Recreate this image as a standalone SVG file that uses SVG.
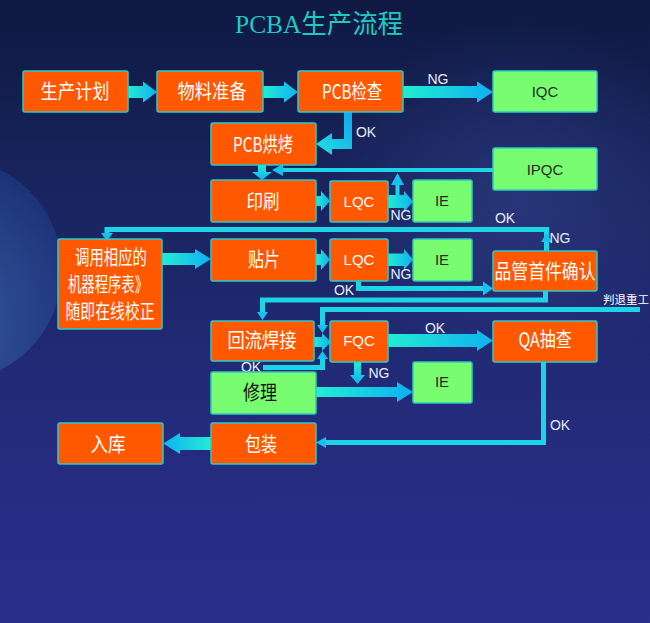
<svg xmlns="http://www.w3.org/2000/svg" width="650" height="623" viewBox="0 0 650 623">
<defs>
<linearGradient id="bg" x1="0" y1="0" x2="0" y2="1">
<stop offset="0" stop-color="#0f1942"/>
<stop offset="0.3" stop-color="#18245e"/>
<stop offset="0.65" stop-color="#232b7a"/>
<stop offset="1" stop-color="#2a2e8c"/>
</linearGradient>
<radialGradient id="glow" cx="0.35" cy="0.7" r="0.75">
<stop offset="0" stop-color="#4a86c8"/>
<stop offset="1" stop-color="#1f3c88"/>
</radialGradient>
<radialGradient id="glow2" cx="0.5" cy="0.5" r="0.5">
<stop offset="0" stop-color="#3a4a96" stop-opacity="0.45"/>
<stop offset="1" stop-color="#3a4a96" stop-opacity="0"/>
</radialGradient>
<linearGradient id="gR" x1="0" y1="0" x2="1" y2="0">
<stop offset="0" stop-color="#22ecd2"/>
<stop offset="1" stop-color="#10b0f2"/>
</linearGradient>
<linearGradient id="gL" x1="1" y1="0" x2="0" y2="0">
<stop offset="0" stop-color="#22ecd2"/>
<stop offset="1" stop-color="#10b0f2"/>
</linearGradient>
<linearGradient id="gD" x1="0" y1="0" x2="0" y2="1">
<stop offset="0" stop-color="#22ecd2"/>
<stop offset="1" stop-color="#10b0f2"/>
</linearGradient>
<linearGradient id="gOK" x1="1" y1="0" x2="0" y2="1">
<stop offset="0" stop-color="#10a8f0"/>
<stop offset="1" stop-color="#22e0e0"/>
</linearGradient>
<style>
.o{fill:#ff5800;stroke:#2ccac8;stroke-width:1.5}
.g{fill:#78fc70;stroke:#2ccac8;stroke-width:1.5}
.cn{font-family:"Noto Sans CJK SC","Noto Sans",sans-serif;font-size:20px;fill:#ffffff;text-anchor:middle}
.en{font-family:"Liberation Sans",Arial,sans-serif;font-size:15px;text-anchor:middle}
.w{fill:#ffffff}
.d{fill:#2a2a2a}
.lb{font-family:"Liberation Sans",Arial,sans-serif;font-size:14px;fill:#e6ecf6;text-anchor:middle}
.ln{fill:none;stroke:#1cd4e6;stroke-width:5}
.hd{fill:#18c0ee}
</style>
</defs>

<rect width="650" height="623" fill="url(#bg)"/>
<circle cx="-50" cy="270" r="112" fill="url(#glow)" opacity="0.6"/>
<ellipse cx="520" cy="200" rx="200" ry="180" fill="url(#glow2)"/>

<text x="319" y="33" font-family="'Liberation Serif','Noto Sans CJK SC',serif" font-size="26" fill="#1ecac0" text-anchor="middle" textLength="168" lengthAdjust="spacingAndGlyphs">PCBA生产流程</text>

<g id="connectors">
<polygon fill="url(#gR)" points="128,86 143,86 143,81.5 157,92 143,102.5 143,98 128,98"/>
<polygon fill="url(#gR)" points="263,86 284,86 284,81.5 298,92 284,102.5 284,98 263,98"/>
<polygon fill="url(#gR)" points="403,86 477,86 477,81.5 493,92 477,102.5 477,98 403,98"/>
<polygon fill="url(#gOK)" points="344,112 352,112 352,149 332,149 332,155 316,144 332,133 332,139 344,139"/>
<polygon fill="url(#gD)" points="258,165 266,165 266,172 272,172 262,180 252,172 258,172"/>
<rect x="281" y="168" width="212" height="4" fill="#1cd4e6"/>
<polygon class="hd" points="283,164 283,176 272,170"/>
<polygon fill="url(#gR)" points="316,196 321,196 321,191 330,201 321,211 321,206 316,206"/>
<polygon fill="url(#gR)" points="388,195 404,195 404,191 413,201.5 404,212 404,208 388,208"/>
<rect x="395.5" y="183" width="4" height="13" fill="#1cd4e6"/>
<polygon class="hd" points="391,185 404,185 397.5,173"/>
<path class="ln" d="M546.5,251 V229.5 H107 V234"/>
<polygon class="hd" points="541,242 552,242 546.5,233"/>
<polygon class="hd" points="101,233 113,233 107,241"/>
<polygon fill="url(#gR)" points="162,253 195,253 195,249 211,259 195,269 195,265 162,265"/>
<polygon fill="url(#gR)" points="316,254 321,254 321,249 330,259.5 321,270 321,265 316,265"/>
<polygon fill="url(#gR)" points="388,253.5 404,253.5 404,249 413,259.5 404,270 404,266 388,266"/>
<path class="ln" d="M358.5,281 V288.5 H484" stroke-width="6"/>
<polygon class="hd" points="483,281.5 483,295.5 493,288.5"/>
<path class="ln" d="M545.5,291 V300 H262.5 V313"/>
<polygon class="hd" points="257,312 268,312 262.5,320"/>
<path class="ln" d="M640,309.5 H322.5 V326"/>
<polygon class="hd" points="317,325 328,325 322.5,333"/>
<polygon fill="url(#gR)" points="313,337 322,337 322,333 331,342 322,351 322,347 313,347"/>
<path class="ln" d="M263,367.5 H322.5 V358"/>
<polygon class="hd" points="317,359 328,359 322.5,351"/>
<polygon fill="url(#gR)" points="388,334 477,334 477,330 493,340.5 477,351 477,347 388,347"/>
<polygon fill="url(#gD)" points="354,362 361,362 361,375 365,375 357.5,384 350,375 354,375"/>
<polygon fill="url(#gR)" points="316,387 397,387 397,382 413,392 397,402 397,397 316,397"/>
<path class="ln" d="M543.5,362 V442.5 H326"/>
<polygon class="hd" points="326,437 326,448 316,442.5"/>
<polygon fill="url(#gL)" points="211,437 180,437 180,433 163,443.5 180,454 180,450 211,450"/>
</g>

<g id="labels">
<text class="lb" x="438" y="84">NG</text>
<text class="lb" x="366" y="137">OK</text>
<text class="lb" x="401" y="220">NG</text>
<text class="lb" x="505" y="223">OK</text>
<text class="lb" x="560" y="243">NG</text>
<text class="lb" x="401" y="279">NG</text>
<text class="lb" x="344" y="295">OK</text>
<text x="603" y="304" font-family="'Noto Sans CJK SC',sans-serif" font-size="11.5" fill="#ffffff">判退重工</text>
<text class="lb" x="435" y="333">OK</text>
<text class="lb" x="251" y="372">OK</text>
<text class="lb" x="379" y="378">NG</text>
<text class="lb" x="560" y="430">OK</text>
</g>

<g id="n1"><rect class="o" x="23" y="71" width="105" height="41" rx="2"/><text class="cn" x="75" y="99" textLength="69" lengthAdjust="spacingAndGlyphs">生产计划</text></g>
<g id="n2"><rect class="o" x="157" y="71" width="106" height="41" rx="2"/><text class="cn" x="212" y="99" textLength="69" lengthAdjust="spacingAndGlyphs">物料准备</text></g>
<g id="n3"><rect class="o" x="298" y="71" width="105" height="41" rx="2"/><text class="cn" x="352" y="99" font-family="'Liberation Serif','Noto Sans CJK SC',serif" textLength="60" lengthAdjust="spacingAndGlyphs">PCB检查</text></g>
<g id="n4"><rect class="g" x="493" y="71" width="104" height="41" rx="2"/><text class="en d" x="545" y="97">IQC</text></g>
<g id="n5"><rect class="o" x="211" y="123" width="105" height="42" rx="2"/><text class="cn" x="263" y="152" font-family="'Liberation Serif','Noto Sans CJK SC',serif" textLength="60" lengthAdjust="spacingAndGlyphs">PCB烘烤</text></g>
<g id="n6"><rect class="g" x="493" y="148" width="104" height="42" rx="2"/><text class="en d" x="545" y="175">IPQC</text></g>
<g id="n7"><rect class="o" x="211" y="180" width="105" height="42" rx="2"/><text class="cn" x="263" y="209" textLength="33" lengthAdjust="spacingAndGlyphs">印刷</text></g>
<g id="n8"><rect class="o" x="330" y="181" width="58" height="41" rx="2"/><text class="en w" x="359" y="207">LQC</text></g>
<g id="n9"><rect class="g" x="413" y="180" width="59" height="42" rx="2"/><text class="en d" x="442" y="206">IE</text></g>
<g id="n10"><rect class="o" x="58" y="239" width="104" height="90" rx="2"/>
<text class="cn" x="111" y="265" font-size="17" textLength="72" lengthAdjust="spacingAndGlyphs">调用相应的</text>
<text class="cn" x="108" y="292" font-size="17" textLength="80" lengthAdjust="spacingAndGlyphs">机器程序表》</text>
<text class="cn" x="110" y="319" font-size="17" textLength="89" lengthAdjust="spacingAndGlyphs">随即在线校正</text></g>
<g id="n11"><rect class="o" x="211" y="239" width="105" height="42" rx="2"/><text class="cn" x="264" y="267" textLength="32" lengthAdjust="spacingAndGlyphs">贴片</text></g>
<g id="n12"><rect class="o" x="330" y="239" width="58" height="42" rx="2"/><text class="en w" x="359" y="265">LQC</text></g>
<g id="n13"><rect class="g" x="413" y="239" width="59" height="42" rx="2"/><text class="en d" x="442" y="265">IE</text></g>
<g id="n14"><rect class="o" x="493" y="251" width="104" height="40" rx="2"/><text class="cn" x="545" y="279" textLength="101" lengthAdjust="spacingAndGlyphs">品管首件确认</text></g>
<g id="n15"><rect class="o" x="211" y="321" width="103" height="40" rx="2"/><text class="cn" x="262" y="348" textLength="69" lengthAdjust="spacingAndGlyphs">回流焊接</text></g>
<g id="n16"><rect class="o" x="330" y="321" width="58" height="41" rx="2"/><text class="en w" x="359" y="346">FQC</text></g>
<g id="n17"><rect class="o" x="493" y="321" width="104" height="41" rx="2"/><text class="cn" x="545" y="347" font-family="'Liberation Serif','Noto Sans CJK SC',serif" textLength="53" lengthAdjust="spacingAndGlyphs">QA抽查</text></g>
<g id="n18"><rect class="g" x="211" y="372" width="105" height="42" rx="2"/><text class="cn" x="260" y="400" style="fill:#111111" textLength="34" lengthAdjust="spacingAndGlyphs">修理</text></g>
<g id="n19"><rect class="g" x="413" y="362" width="59" height="41" rx="2"/><text class="en d" x="442" y="387">IE</text></g>
<g id="n20"><rect class="o" x="58" y="423" width="105" height="41" rx="2"/><text class="cn" x="108" y="452" textLength="35" lengthAdjust="spacingAndGlyphs">入库</text></g>
<g id="n21"><rect class="o" x="211" y="423" width="105" height="41" rx="2"/><text class="cn" x="261" y="452" textLength="32" lengthAdjust="spacingAndGlyphs">包装</text></g>
</svg>
